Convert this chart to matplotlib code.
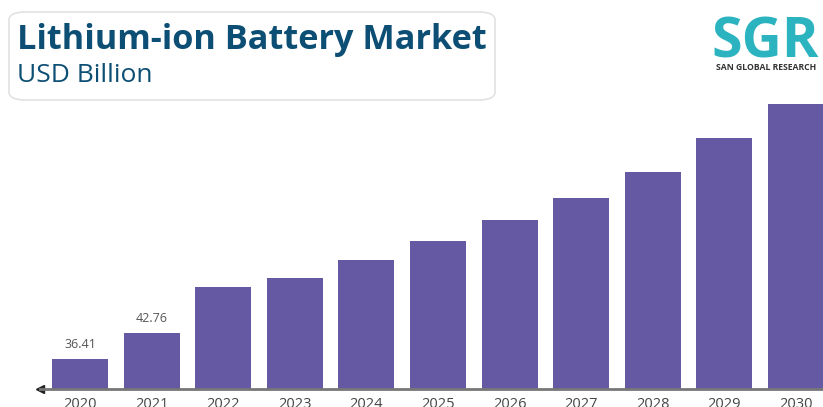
import numpy as np
import matplotlib.pyplot as plt
from matplotlib.patches import FancyBboxPatch

years = ['2020', '2021', '2022', '2023', '2024', '2025', '2026', '2027', '2028', '2029', '2030']
values = [36.41, 42.76, 54.0, 56.2, 60.6, 65.2, 70.4, 75.7, 82.1, 90.4, 98.7]
shown = {0: '36.41', 1: '42.76'}

plt.rcParams['font.family'] = ['Open Sans', 'DejaVu Sans']

fig = plt.figure(figsize=(8.23, 4.07), dpi=100)
W, H = 823, 407

# axes placed in pixel terms
left_px, right_px, bottom_px, top_px = 40, 823, 389, 100
ax = fig.add_axes([left_px / W, 1 - bottom_px / H, (right_px - left_px) / W, (bottom_px - top_px) / H])

step = 71.6
x0 = -(80 - left_px) / step
x1 = (right_px - 80) / step
x = np.arange(len(years))
ax.bar(x, values, width=56 / step, color='#6559a4')
ax.set_xlim(x0, x1)
ax.set_ylim(29.08, 99.65)

for i, lab in shown.items():
    ax.text(x[i], values[i] + 2.0, lab, ha='center', va='bottom', fontsize=9, color='#555555')

for s in ['top', 'right', 'left']:
    ax.spines[s].set_visible(False)
ax.spines['bottom'].set_color('#777777')
ax.spines['bottom'].set_linewidth(2)
ax.plot([0], [0], marker='<', color='#222222', markersize=6, transform=ax.transAxes, clip_on=False)
ax.set_yticks([])
ax.set_xticks(x)
ax.set_xticklabels(years, fontsize=10.5, color='#444444')
ax.tick_params(axis='x', length=0, pad=6)

# title box
box = FancyBboxPatch((9 / W, 1 - 100 / H), 486 / W, 88 / H, boxstyle='round,pad=0,rounding_size=0.02',
                     transform=fig.transFigure, facecolor='white', edgecolor='#e2e2e2', linewidth=1.2)
fig.patches.append(box)
fig.text(17 / W, 1 - 40 / H, 'Lithium-ion Battery Market', fontsize=24.7, fontweight='bold',
         color='#0d4e74', va='center', ha='left')
fig.text(17 / W, 1 - 75 / H, 'USD Billion', fontsize=19, color='#0d4e74', va='center', ha='left')

# logo
fig.text(765 / W, 1 - 57 / H, 'SGR', fontsize=40, fontweight='bold', color='#2bb3bf',
         va='baseline', ha='center')
fig.text(766 / W, 1 - 68 / H, 'SAN GLOBAL RESEARCH', fontsize=6.2, fontweight='bold', color='#333333',
         va='center', ha='center')

fig.savefig('out.png', dpi=100)
